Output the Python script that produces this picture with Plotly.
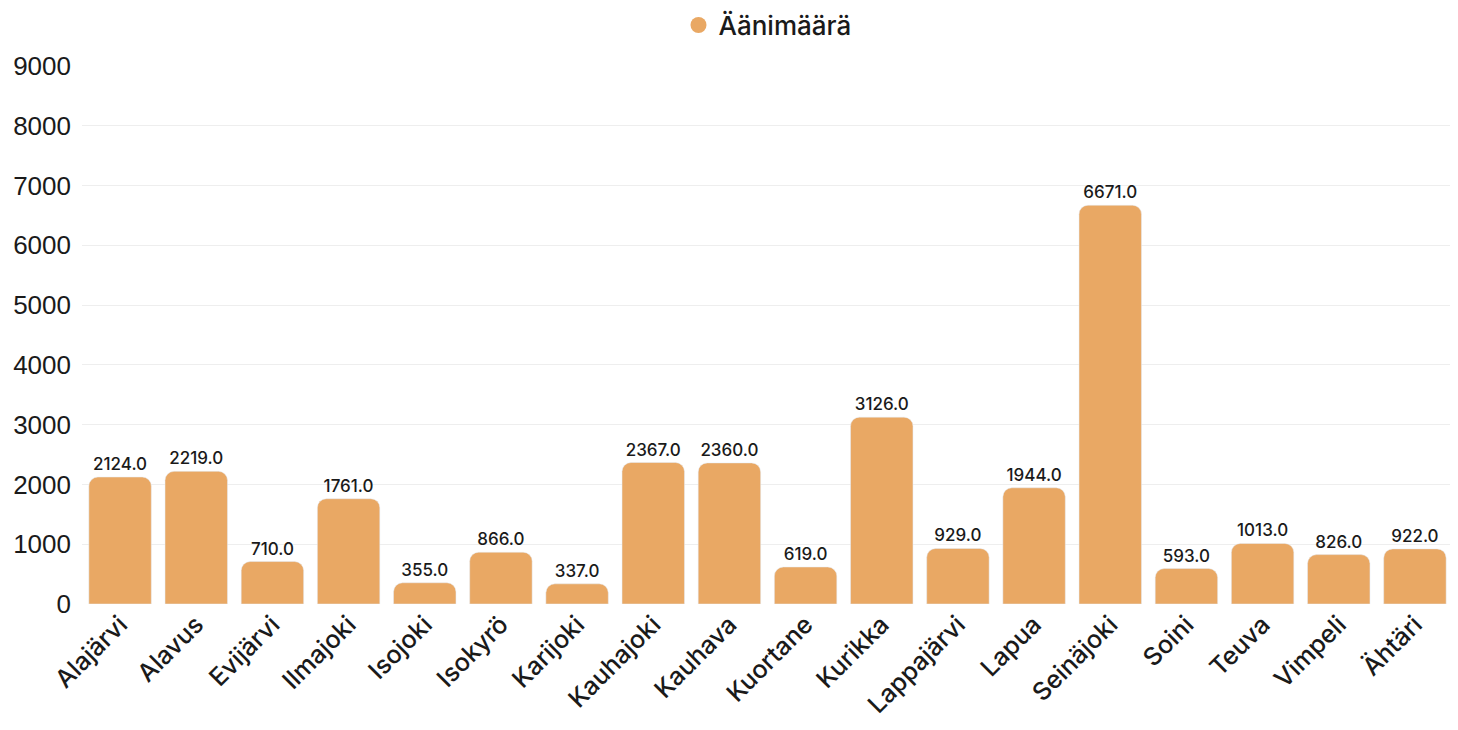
import plotly.graph_objects as go

municipalities = ["Alajärvi", "Alavus", "Evijärvi", "Ilmajoki", "Isojoki", "Isokyrö",
                  "Karijoki", "Kauhajoki", "Kauhava", "Kuortane", "Kurikka", "Lappajärvi",
                  "Lapua", "Seinäjoki", "Soini", "Teuva", "Vimpeli", "Ähtäri"]
votes = [2124, 2219, 710, 1761, 355, 866, 337, 2367, 2360, 619, 3126, 929,
         1944, 6671, 593, 1013, 826, 922]
y_ticks = [0, 1000, 2000, 3000, 4000, 5000, 6000, 7000, 8000, 9000]
series_name = "Äänimäärä"

color = "#E9A864"
label_font = "Inter, Roboto, sans-serif"

fig = go.Figure()
fig.add_trace(go.Bar(
    x=municipalities, y=votes, name=series_name, showlegend=False,
    marker=dict(color=color, cornerradius=9),
    text=[f"{v:.1f}" for v in votes], textposition="outside",
    textfont=dict(family=label_font, size=17, color="#1a1a1a", weight=500),
    cliponaxis=False,
))
fig.add_trace(go.Scatter(
    x=[None], y=[None], mode="markers", name=series_name,
    marker=dict(color=color, size=22, symbol="circle"),
))

fig.update_layout(
    width=1458, height=730,
    paper_bgcolor="white", plot_bgcolor="white",
    margin=dict(l=74, r=13, t=58, b=134, autoexpand=False),
    bargap=0.18,
    legend=dict(orientation="h", x=0.5, xanchor="center", y=1.076, yanchor="middle",
                font=dict(family=label_font, size=26, color="#1a1a1a", weight=500)),
    xaxis=dict(tickangle=-45, tickfont=dict(family=label_font, size=25, color="#1a1a1a", weight=500),
               showgrid=False, showline=False, ticks="", automargin=False),
    yaxis=dict(range=[0, 9000], tickvals=y_ticks, automargin=False,
               tickfont=dict(family="Liberation Sans, Arial, sans-serif", size=26, color="#1a1a1a"),
               gridcolor="#EEEEEE", zeroline=False, showline=False, ticks="", ticklabelstandoff=10),
)

fig.write_html("out.html")
